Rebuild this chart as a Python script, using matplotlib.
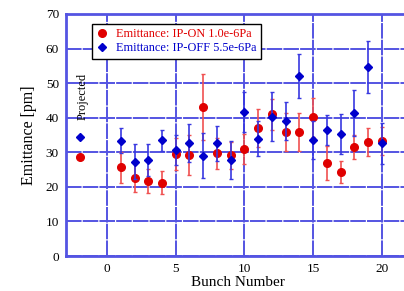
import numpy as np
from matplotlib import pyplot as plt

# bunch numbers (-2 = projected)
bunch = [-2, 1, 2, 3, 4, 5, 6, 7, 8, 9, 10, 11, 12, 13, 14, 15, 16, 17, 18, 19, 20]

# IP-ON 1.0e-6Pa
emit_on = [28.7, 25.7, 22.6, 21.7, 21.2, 29.5, 29.1, 43.0, 29.7, 29.1, 30.9,
           36.9, 41.0, 35.9, 35.9, 40.1, 26.9, 24.3, 31.5, 33.0, 33.2]
err_on = [0, 4.5, 4.0, 3.6, 3.3, 4.6, 5.8, 9.5, 4.4, 4.0, 4.4,
          5.5, 4.5, 5.4, 5.5, 5.7, 4.9, 3.2, 3.5, 4.0, 4.0]

# IP-OFF 5.5e-6Pa
emit_off = [34.5, 33.3, 27.3, 27.8, 33.5, 30.7, 32.7, 29.0, 32.6, 27.8, 41.6,
            33.9, 40.3, 39.1, 52.0, 33.5, 36.4, 35.3, 41.3, 54.6, 32.6]
err_off = [0, 3.6, 5.0, 4.6, 3.0, 4.4, 5.4, 6.5, 5.0, 5.6, 5.7,
           5.1, 7.0, 5.4, 6.4, 5.5, 4.3, 5.9, 6.7, 7.5, 5.9]

label_on = "Emittance: IP-ON 1.0e-6Pa"
label_off = "Emittance: IP-OFF 5.5e-6Pa"

plt.rcParams['font.family'] = ['Liberation Serif', 'DejaVu Serif']

fig = plt.figure(figsize=(4.04, 2.91), dpi=100)
ax = fig.add_axes([0.163, 0.120, 0.850, 0.832])

blue = '#0000cc'
red = '#e00000'
grid_c = '#5454e2'

ax.set_xlim(-3, 22)
ax.set_ylim(0, 70)
ax.set_xticks([0, 5, 10, 15, 20])
ax.set_yticks(np.arange(0, 71, 10))
ax.grid(True, color=grid_c, lw=1.4, ls=(0, (8, 0.6)))
ax.set_axisbelow(True)
for s in ax.spines.values():
    s.set_color(grid_c)
    s.set_linewidth(2)
ax.tick_params(length=0, labelsize=9.5, pad=5)

ax.errorbar(bunch, emit_on, yerr=err_on, fmt='o', color=red, ms=5.5,
            ecolor='#f05050', elinewidth=1.2, capsize=1.5, label=label_on, zorder=3)
ax.errorbar(bunch, emit_off, yerr=err_off, fmt='D', color=blue, ms=3.8,
            ecolor='#3838e0', elinewidth=1.2, capsize=1.5, label=label_off, zorder=4)

ax.text(-1.8, 46.3, "Projected", rotation=90, ha='center', va='center', fontsize=9)

ax.set_xlabel("Bunch Number", fontsize=11, labelpad=1)
ax.set_ylabel("Emittance [pm]", fontsize=11.5, labelpad=6)

handles, labels = ax.get_legend_handles_labels()
handles = [h[0] for h in handles]
leg = ax.legend(handles, labels, loc='upper left', bbox_to_anchor=(0.076, 0.958),
                borderaxespad=0, fontsize=8.8, frameon=True, fancybox=False,
                edgecolor='black', framealpha=1, handlelength=1.0, handletextpad=0.6,
                borderpad=0.35, labelspacing=0.15)
leg.get_frame().set_linewidth(1)
for t, c in zip(leg.get_texts(), [red, blue]):
    t.set_color(c)

fig.savefig('out.png', dpi=100)
